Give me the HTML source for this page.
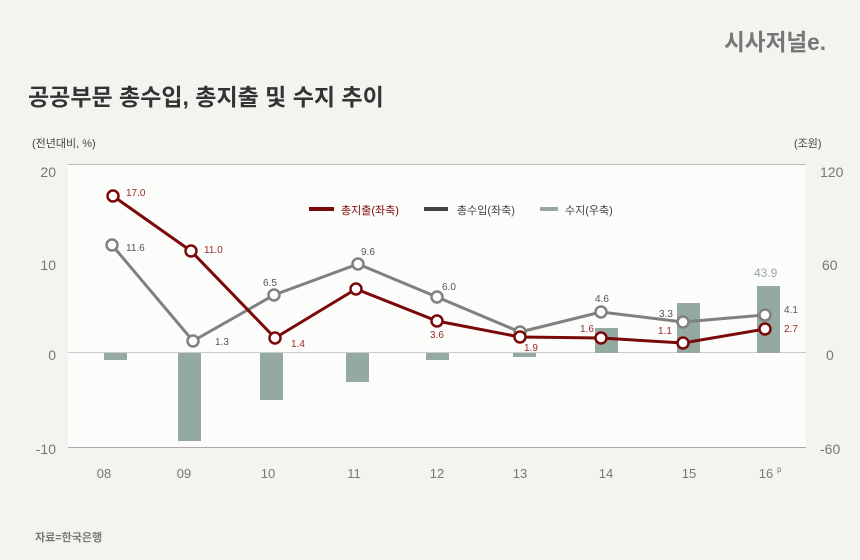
<!DOCTYPE html>
<html><head><meta charset="utf-8"><style>
html,body{margin:0;padding:0;background:#f3f3ef;}
svg{display:block;font-family:"Liberation Sans","Noto Sans CJK KR",sans-serif;}
</style></head><body>
<svg width="860" height="560" viewBox="0 0 860 560" xmlns="http://www.w3.org/2000/svg">
<rect width="860" height="560" fill="#f3f3ef"/>
<text x="724" y="50" font-size="23" font-weight="bold" fill="#777" textLength="102" lengthAdjust="spacingAndGlyphs">시사저널e.</text>
<text x="28" y="105" font-size="23" font-weight="bold" fill="#333">공공부문 총수입, 총지출 및 수지 추이</text>
<text x="32" y="147" font-size="11" fill="#444">(전년대비, %)</text>
<text x="794" y="147" font-size="11" fill="#444">(조원)</text>
<rect x="68" y="164" width="738" height="283" fill="#fcfcfa"/>
<line x1="68" y1="164.5" x2="806" y2="164.5" stroke="#bbb"/>
<line x1="68" y1="352.5" x2="806" y2="352.5" stroke="#ccc"/>
<line x1="68" y1="447.5" x2="806" y2="447.5" stroke="#aaa"/>
<g font-size="14" fill="#777" text-anchor="end">
<text x="56" y="177">20</text><text x="56" y="270">10</text><text x="56" y="360">0</text><text x="56" y="454">-10</text>
</g>
<g font-size="14" fill="#777" text-anchor="start">
<text x="820" y="177">120</text><text x="822" y="270">60</text><text x="826" y="360">0</text><text x="820" y="454">-60</text>
</g>
<g font-size="13" fill="#777" text-anchor="middle">
<text x="104" y="478">08</text><text x="184" y="478">09</text><text x="268" y="478">10</text><text x="354" y="478">11</text><text x="437" y="478">12</text><text x="520" y="478">13</text><text x="606" y="478">14</text><text x="689" y="478">15</text><text x="766" y="478">16</text>
</g>
<text x="777" y="472" font-size="8" fill="#777">p</text>
<g fill="#94aaa1">
<rect x="104" y="353" width="23" height="7"/>
<rect x="178" y="353" width="23" height="88"/>
<rect x="260" y="353" width="23" height="47"/>
<rect x="346" y="353" width="23" height="29"/>
<rect x="426" y="353" width="23" height="7"/>
<rect x="513" y="353" width="23" height="4"/>
<rect x="595" y="328" width="23" height="25"/>
<rect x="677" y="303" width="23" height="50"/>
<rect x="757" y="286" width="23" height="67"/>
</g>
<polyline fill="none" stroke="#808080" stroke-width="3" points="112,245 193,341 274,295 358,264 437,297 520,332 601,312 683,322 765,315"/>
<polyline fill="none" stroke="#7a0a0a" stroke-width="3" points="113,196 191,251 275,338 356,289 437,321 520,337 601,338 683,343 765,329"/>
<g fill="#fff" stroke="#808080" stroke-width="2.5">
<circle cx="112" cy="245" r="5.5"/><circle cx="193" cy="341" r="5.5"/><circle cx="274" cy="295" r="5.5"/><circle cx="358" cy="264" r="5.5"/><circle cx="437" cy="297" r="5.5"/><circle cx="520" cy="332" r="5.5"/><circle cx="601" cy="312" r="5.5"/><circle cx="683" cy="322" r="5.5"/><circle cx="765" cy="315" r="5.5"/>
</g>
<g fill="#fff" stroke="#7a0a0a" stroke-width="2.5">
<circle cx="113" cy="196" r="5.5"/><circle cx="191" cy="251" r="5.5"/><circle cx="275" cy="338" r="5.5"/><circle cx="356" cy="289" r="5.5"/><circle cx="437" cy="321" r="5.5"/><circle cx="520" cy="337" r="5.5"/><circle cx="601" cy="338" r="5.5"/><circle cx="683" cy="343" r="5.5"/><circle cx="765" cy="329" r="5.5"/>
</g>
<g font-size="10" fill="#555">
<text x="126" y="251">11.6</text><text x="215" y="345">1.3</text><text x="263" y="286">6.5</text><text x="361" y="255">9.6</text><text x="442" y="290">6.0</text><text x="595" y="302">4.6</text><text x="659" y="317">3.3</text><text x="784" y="313">4.1</text>
</g>
<g font-size="10" fill="#9a2a2a">
<text x="126" y="196">17.0</text><text x="204" y="253">11.0</text><text x="291" y="347">1.4</text><text x="430" y="338">3.6</text><text x="524" y="351">1.9</text><text x="580" y="332">1.6</text><text x="658" y="334">1.1</text><text x="784" y="332">2.7</text>
</g>
<text x="754" y="277" font-size="12" fill="#94aaa1">43.9</text>
<rect x="309" y="207" width="25" height="4" fill="#7a0a0a"/>
<text x="341" y="214" font-size="11" fill="#7a0a0a">총지출(좌축)</text>
<rect x="424" y="207" width="24" height="4" fill="#444"/>
<text x="457" y="214" font-size="11" fill="#444">총수입(좌축)</text>
<rect x="540" y="207" width="18" height="4" fill="#94aaa1"/>
<text x="565" y="214" font-size="11" fill="#444">수지(우축)</text>
<text x="35" y="541" font-size="11" font-weight="bold" fill="#777">자료=한국은행</text>
</svg>
</body></html>
